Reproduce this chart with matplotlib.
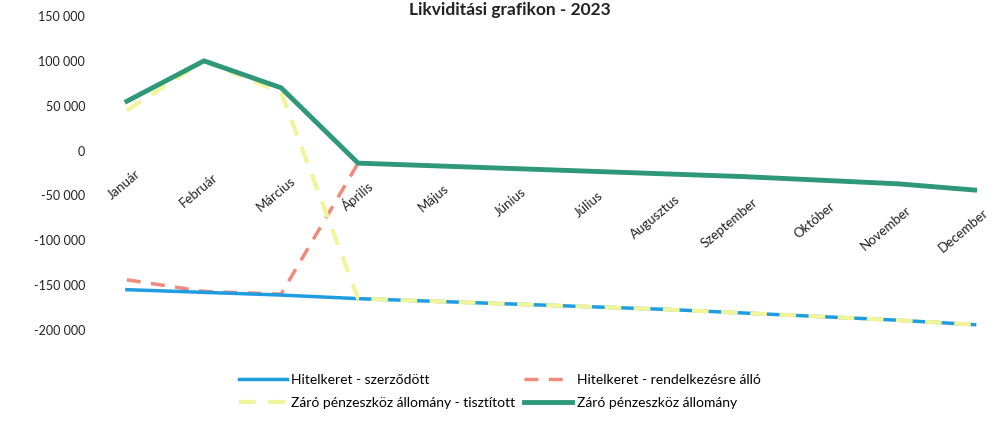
import numpy as np
import matplotlib.pyplot as plt
from matplotlib.ticker import FuncFormatter

plt.rcParams['font.family'] = ['Lato', 'DejaVu Sans']

# data
honapok = ["Január", "Február", "Március", "Április", "Május", "Június",
           "Július", "Augusztus", "Szeptember", "Október", "November", "December"]
szerzodott = [-155000, -158000, -161000, -165000, -168000, -171000,
              -174000, -177000, -181000, -185000, -189000, -194000]
rendelkezesre = [-144000, -157000, -160000, -14000, -17000, -20000,
                 -23000, -26000, -29000, -33000, -37000, -44000]
tisztitott = [45000, 100000, 65000, -165000, -168000, -171000,
              -174000, -177000, -181000, -185000, -189000, -194000]
zaro = [55000, 100000, 70000, -14000, -17000, -20000,
        -23000, -26000, -29000, -33000, -37000, -44000]

x = np.arange(len(honapok))

fig = plt.figure(figsize=(9.99, 4.32), dpi=100)
ax = fig.add_axes([0.09, 0.236, 0.901, 0.727])

l1, = ax.plot(x, szerzodott, color="#1f9de0", lw=2.5, label="Hitelkeret - szerződött", zorder=2)
l2, = ax.plot(x, rendelkezesre, color="#f08a7a", lw=2.5, ls=(0, (4, 3)),
              label="Hitelkeret - rendelkezésre álló", zorder=1)
l3, = ax.plot(x, tisztitott, color="#f0f49a", lw=3, ls=(0, (4, 3)),
              label="Záró pénzeszköz állomány - tisztított", zorder=3)
l4, = ax.plot(x, zaro, color="#2e9878", lw=3.5, label="Záró pénzeszköz állomány", zorder=4)

ax.set_xlim(-0.48, 11.2)
ax.set_ylim(-200000, 150000)
ax.set_yticks(np.arange(-200000, 150001, 50000))
ax.yaxis.set_major_formatter(FuncFormatter(lambda v, p: f"{v:,.0f}".replace(",", " ")))

for s in ax.spines.values():
    s.set_visible(False)
ax.tick_params(axis="both", length=0, labelsize=9, colors="#222222")
ax.set_xticks([])

# month labels hang below the zero line, rotated
# (the scanned original is slightly tilted, so they drift lower to the right)
for i, m in enumerate(honapok):
    ax.annotate(m, xy=(x[i], 0), xytext=(6, -12 - 2.6 * i), textcoords="offset points",
                rotation=40, ha="right", va="top", fontsize=9.5,
                color="#222222", rotation_mode="anchor")

fig.text(0.51, 0.995, "Likviditási grafikon - 2023", ha="center", va="top",
         fontsize=12.5, fontweight="bold", color="#222222")

# row 1: szerződött, rendelkezésre álló / row 2: tisztított, záró
fig.legend([l1, l3, l2, l4], [l1.get_label(), l3.get_label(), l2.get_label(), l4.get_label()],
           loc="lower center", bbox_to_anchor=(0.5, 0.025), ncol=2,
           frameon=False, fontsize=10, handlelength=3.5, handletextpad=0.3,
           columnspacing=0.6, labelspacing=0.8)

plt.savefig("out.png", dpi=100)
